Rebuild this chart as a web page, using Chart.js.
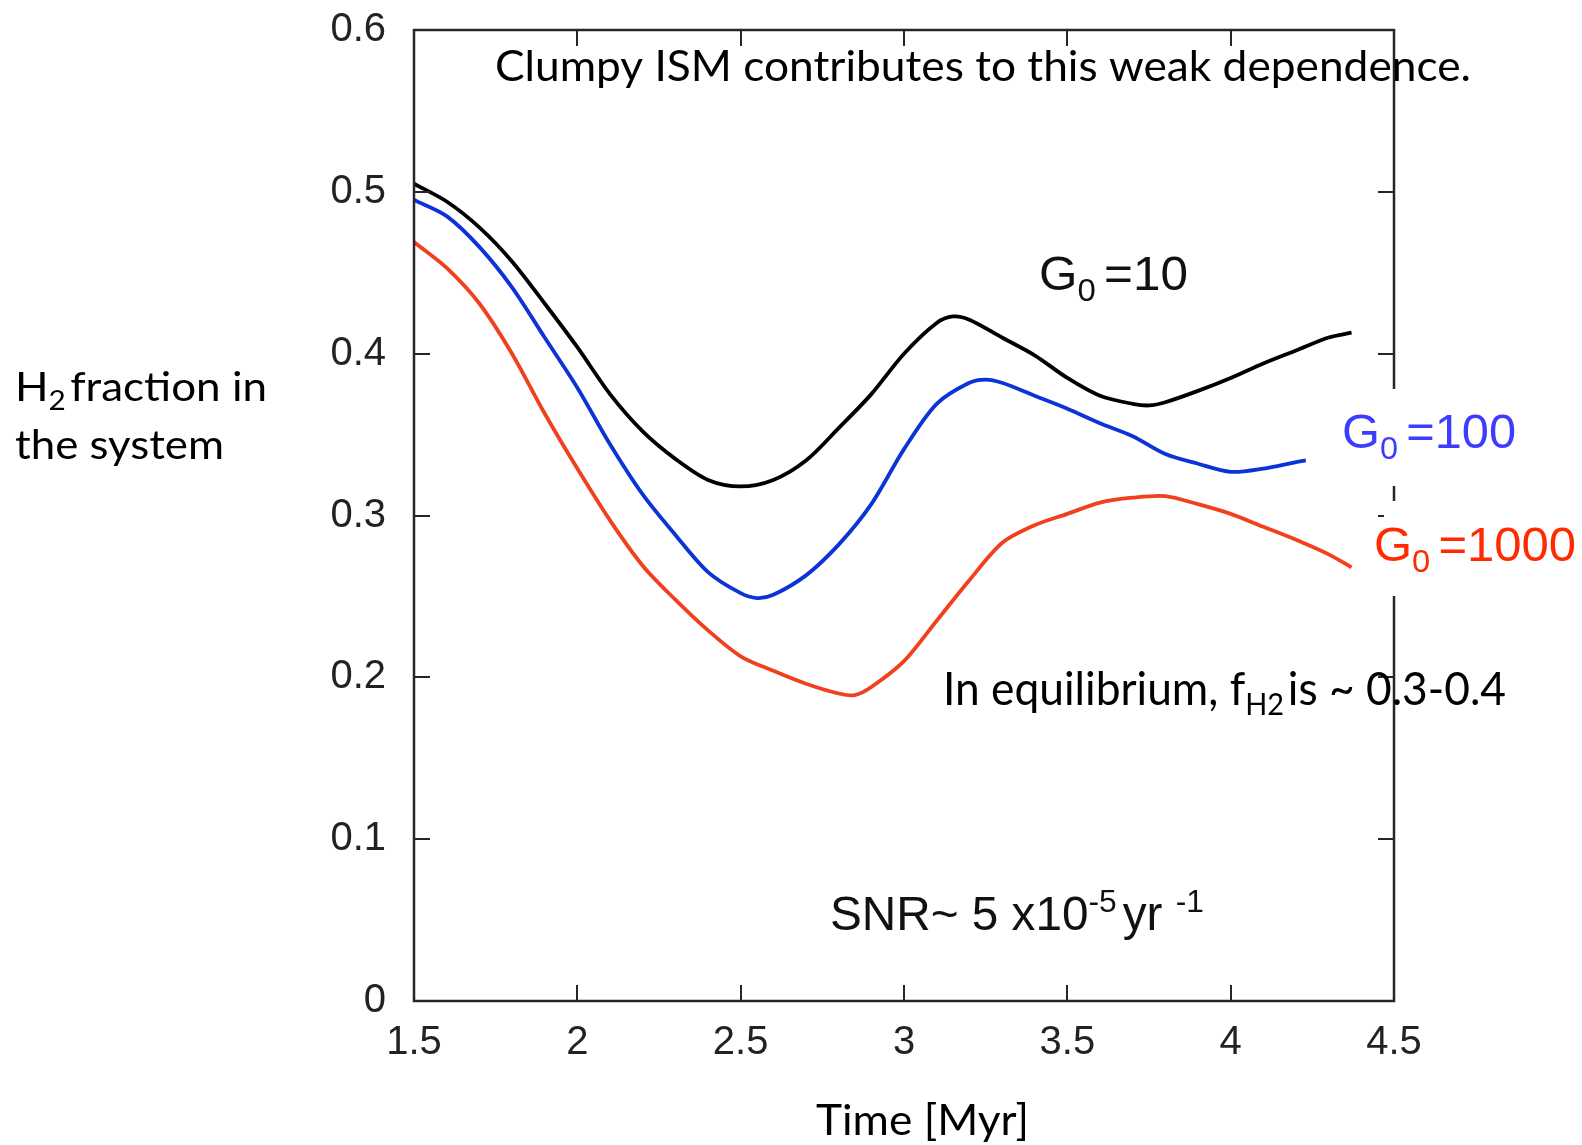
<!DOCTYPE html>
<html>
<head>
<meta charset="utf-8">
<script src="https://cdn.jsdelivr.net/npm/chart.js@4/dist/chart.umd.min.js"></script>
<style>
html,body{margin:0;padding:0;background:#fff;}
canvas{display:block;}
</style>
</head>
<body>
<canvas id="c" width="1582" height="1145"></canvas>
<script>
// ---- data ----
const timeG10  = [1.5,1.6,1.7,1.8,1.9,2.0,2.1,2.2,2.3,2.4,2.5,2.6,2.7,2.8,2.9,3.0,3.1,3.15,3.2,3.3,3.4,3.5,3.6,3.7,3.75,3.8,3.9,4.0,4.1,4.2,4.3,4.37];
const fracG10  = [0.505,0.494,0.478,0.457,0.431,0.404,0.375,0.352,0.335,0.322,0.318,0.322,0.334,0.354,0.375,0.400,0.419,0.423,0.421,0.410,0.399,0.385,0.374,0.369,0.368,0.370,0.377,0.385,0.394,0.402,0.410,0.413];
const timeG100 = [1.5,1.6,1.7,1.8,1.9,2.0,2.1,2.2,2.3,2.4,2.5,2.55,2.6,2.7,2.8,2.9,3.0,3.1,3.2,3.25,3.3,3.4,3.5,3.6,3.7,3.8,3.9,4.0,4.1,4.2,4.23];
const fracG100 = [0.495,0.485,0.466,0.441,0.410,0.379,0.344,0.313,0.288,0.265,0.252,0.249,0.251,0.263,0.282,0.307,0.341,0.369,0.382,0.384,0.382,0.374,0.366,0.357,0.349,0.338,0.332,0.327,0.329,0.333,0.334];
const timeG1000 = [1.5,1.6,1.7,1.8,1.9,2.0,2.1,2.2,2.3,2.4,2.5,2.6,2.7,2.8,2.85,2.9,3.0,3.1,3.2,3.3,3.4,3.5,3.6,3.7,3.8,3.9,4.0,4.1,4.2,4.3,4.37];
const fracG1000 = [0.469,0.453,0.431,0.400,0.363,0.329,0.297,0.269,0.248,0.229,0.213,0.204,0.196,0.190,0.189,0.194,0.210,0.235,0.260,0.283,0.294,0.301,0.308,0.311,0.312,0.307,0.301,0.293,0.285,0.276,0.268];
const xTicks = [1.5,2,2.5,3,3.5,4,4.5];
const xTickLabels = ["1.5","2","2.5","3","3.5","4","4.5"];
const yTicks = [0,0.1,0.2,0.3,0.4,0.5,0.6];
const yTickLabels = ["0","0.1","0.2","0.3","0.4","0.5","0.6"];
const seriesLabels = ["G0 =10","G0 =100","G0 =1000"];

function pts(xs, ys){ return xs.map((x,i)=>({x:x, y:ys[i]})); }

const CAL = '"Lato", "Carlito", "Open Sans", sans-serif';
const HEL = '"Liberation Sans", Arial, sans-serif';

function drawRuns(ctx, runs, x, base, targetW, color){
  ctx.save();
  let total = 0; const ws = [];
  runs.forEach(r=>{ ctx.font = r.font; const w = ctx.measureText(r.t).width + (r.gap||0); ws.push(w); total += w; });
  const sx = targetW/total;
  ctx.translate(x, base); ctx.scale(sx,1);
  ctx.fillStyle = color; ctx.textBaseline = 'alphabetic'; ctx.textAlign = 'left';
  let cx = 0;
  runs.forEach((r,i)=>{ ctx.font = r.font; ctx.fillText(r.t, cx, r.dy||0); cx += ws[i]; });
  ctx.restore();
}

const framePlugin = {
  id:'frame',
  afterDatasetsDraw(chart){
    const ctx = chart.ctx, a = chart.chartArea;
    const xs = chart.scales.x, ys = chart.scales.y;
    ctx.save();
    ctx.strokeStyle = '#262626'; ctx.lineWidth = 2.5;
    ctx.strokeRect(a.left, a.top, a.right-a.left, a.bottom-a.top);
    ctx.lineWidth = 2;
    const tl = 16;
    ctx.beginPath();
    xTicks.slice(1,-1).forEach(v=>{
      const px = Math.round(xs.getPixelForValue(v));
      ctx.moveTo(px, a.bottom); ctx.lineTo(px, a.bottom-tl);
      ctx.moveTo(px, a.top); ctx.lineTo(px, a.top+tl);
    });
    yTicks.slice(1,-1).forEach(v=>{
      const py = Math.round(ys.getPixelForValue(v));
      ctx.moveTo(a.left, py); ctx.lineTo(a.left+tl, py);
      ctx.moveTo(a.right, py); ctx.lineTo(a.right-tl, py);
    });
    ctx.stroke();
    ctx.restore();
  },
  afterDraw(chart){
    const ctx = chart.ctx;
    // white boxes behind series labels (they cut the right axis)
    ctx.save(); ctx.fillStyle = '#fff';
    ctx.fillRect(1384, 389, 198, 97);
    ctx.fillRect(1384, 501, 198, 95);
    ctx.restore();
    // annotations
    drawRuns(ctx, [{t:'Clumpy ISM contributes to this weak dependence.', font:'42px '+CAL}], 495, 81, 976, '#000');
    drawRuns(ctx, [{t:'G', font:'300 48px '+HEL},{t:'0', font:'300 32px '+HEL, dy:11, gap:8},{t:'=10', font:'300 48px '+HEL}], 1039, 290, 149, '#111');
    drawRuns(ctx, [{t:'G', font:'300 48px '+HEL},{t:'0', font:'300 32px '+HEL, dy:11, gap:8},{t:'=100', font:'300 48px '+HEL}], 1342, 448, 174, '#3c3cff');
    drawRuns(ctx, [{t:'G', font:'300 48px '+HEL},{t:'0', font:'300 32px '+HEL, dy:11, gap:8},{t:'=1000', font:'300 48px '+HEL}], 1374, 561, 202, '#ff2a00');
    drawRuns(ctx, [{t:'In equilibrium, f', font:'46px '+CAL},{t:'H2', font:'30px '+CAL, dy:10, gap:4},{t:'is ~ 0.3-0.4', font:'46px '+CAL}], 943, 705, 563, '#000');
    drawRuns(ctx, [{t:'SNR~ 5 x10', font:'48px '+HEL},{t:'-5', font:'32px '+HEL, dy:-18, gap:6},{t:'yr ', font:'48px '+HEL},{t:'-1', font:'32px '+HEL, dy:-18}], 830, 930, 374, '#111');
    drawRuns(ctx, [{t:'H', font:'40px '+CAL},{t:'2', font:'27px '+CAL, dy:9, gap:4},{t:'fraction in', font:'40px '+CAL}], 15, 401, 252, '#000');
    drawRuns(ctx, [{t:'the system', font:'40px '+CAL}], 15, 459, 209, '#000');
    drawRuns(ctx, [{t:'Time [Myr]', font:'42px '+CAL}], 816, 1135, 213, '#000');
  }
};

new Chart(document.getElementById('c'), {
  type:'line',
  data:{
    datasets:[
      {label:seriesLabels[0], data:pts(timeG10,fracG10), borderColor:'#000000', borderWidth:3.8, pointRadius:0, tension:0.3},
      {label:seriesLabels[1], data:pts(timeG100,fracG100), borderColor:'#0b33d6', borderWidth:3.8, pointRadius:0, tension:0.3},
      {label:seriesLabels[2], data:pts(timeG1000,fracG1000), borderColor:'#f0401e', borderWidth:3.8, pointRadius:0, tension:0.3}
    ]
  },
  options:{
    responsive:false, animation:false, devicePixelRatio:1,
    layout:{padding:{top:30, right:188, left:0, bottom:0}},
    plugins:{legend:{display:false}, tooltip:{enabled:false}},
    scales:{
      x:{type:'linear', min:1.5, max:4.5,
         afterBuildTicks(s){ s.ticks = xTicks.map(v=>({value:v})); },
         afterFit(s){ s.height = 144; s.paddingLeft = 0; s.paddingRight = 0; },
         grid:{display:false, drawTicks:false}, border:{display:false},
         ticks:{padding:18, color:'#222', font:{family:'Liberation Sans', size:40},
                callback:(v,i)=>xTickLabels[i]}},
      y:{type:'linear', min:0, max:0.6,
         afterBuildTicks(s){ s.ticks = yTicks.map(v=>({value:v})); },
         afterFit(s){ s.width = 414; s.paddingTop = 0; s.paddingBottom = 0; },
         grid:{display:false, drawTicks:false}, border:{display:false},
         ticks:{padding:28, color:'#222', font:{family:'Liberation Sans', size:40},
                callback:(v,i)=>yTickLabels[i]}}
    }
  },
  plugins:[framePlugin]
});
</script>
</body>
</html>
